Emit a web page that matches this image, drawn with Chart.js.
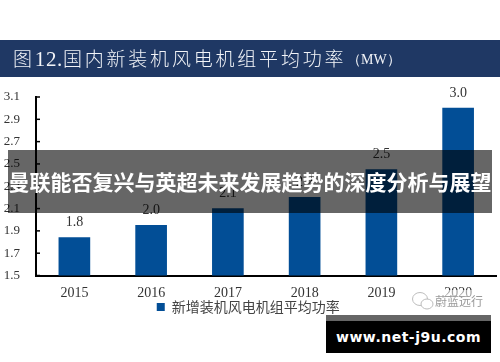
<!DOCTYPE html>
<html>
<head>
<meta charset="utf-8">
<title>国内新装机风电机组平均功率</title>
<script src="https://cdn.jsdelivr.net/npm/chart.js"></script>
<style>
    html, body { margin: 0; padding: 0; background: #fff; }
    #wrap { position: relative; width: 500px; height: 362px; overflow: hidden; }
    #chartBox { position: absolute; left: 0; top: 0; width: 500px; height: 362px; }
    .cjk { font-family: "Noto Sans CJK SC", sans-serif; }
    #band { position: absolute; left: 0; top: 40px; width: 500px; height: 37px; background: #1f3864; color: #f2f4f8; line-height: 37px; white-space: nowrap; }
    #band .t1 { position: absolute; left: 13px; top: -1px; font-size: 19px; letter-spacing: 2.8px; font-weight: 300; }
    #band .num { font-family: "Liberation Serif", serif; font-size: 21px; letter-spacing: 0.6px; }
    #band .t2 { position: absolute; left: 347px; top: 1px; font-family: "Liberation Serif", serif; font-size: 14px; }
    #overlay { position: absolute; left: 8px; top: 150px; width: 484px; height: 63px; background: rgba(0,0,0,0.6); color: #fff; font-size: 21px; font-weight: 700; line-height: 63px; white-space: nowrap; overflow: hidden; text-align: center; }
    #mark { position: absolute; left: 411px; top: 290px; width: 76px; height: 22px; }
    #mark span { position: absolute; left: 24px; top: 0; font-size: 12px; line-height: 22px; color: #9a9a9a; white-space: nowrap; background: rgba(255,255,255,0.55); }
    #strip { position: absolute; left: 326px; top: 315px; width: 165px; height: 6px; background: #666; }
    #url { position: absolute; left: 326px; top: 321px; width: 165px; height: 32px; background: #000; color: #fff; font-family: "DejaVu Sans", sans-serif; font-size: 14px; font-weight: 700; line-height: 32px; text-align: center; letter-spacing: 0.5px; }
</style>
</head>
<body>
<div id="wrap">
    <div id="chartBox"><canvas id="powerChart"></canvas></div>
    <div id="band" class="cjk"><span class="t1">图<span class="num">12.</span>国内新装机风电机组平均功率</span><span class="t2">（MW）</span></div>
    <div id="overlay" class="cjk">曼联能否复兴与英超未来发展趋势的深度分析与展望</div>
    <div id="mark" class="cjk">
        <svg width="24" height="22" viewBox="0 0 24 22"><g fill="#fff" stroke="#bdbdbd" stroke-width="1"><ellipse cx="9" cy="9" rx="7.5" ry="6.5"/><ellipse cx="16" cy="14" rx="6" ry="5"/></g></svg>
        <span>蔚蓝远行</span>
    </div>
    <div id="strip"></div>
    <div id="url">www.net-j9u.com</div>
</div>

<script>
    const years = ['2015', '2016', '2017', '2018', '2019', '2020'];
    const avgPower = [1.84, 1.95, 2.1, 2.2, 2.45, 3.0];
    const powerLabels = ['1.8', '2.0', '2.1', '2.2', '2.5', '3.0'];
    const seriesName = '新增装机风电机组平均功率';

    const serif = 'Liberation Serif';

    // small ticks on the inner side of the y axis + value labels over the bars
    const barExtras = {
        id: 'barExtras',
        afterDatasetsDraw(chart) {
            const ctx = chart.ctx;
            const y = chart.scales.y;
            const x0 = chart.chartArea.left;
            ctx.save();
            ctx.strokeStyle = '#000';
            ctx.lineWidth = 1.5;
            y.ticks.forEach((t, i) => {
                const py = y.getPixelForTick(i);
                ctx.beginPath();
                ctx.moveTo(x0, py);
                ctx.lineTo(x0 + 4, py);
                ctx.stroke();
            });
            ctx.fillStyle = '#333';
            ctx.font = '14px "' + serif + '"';
            ctx.textAlign = 'center';
            ctx.textBaseline = 'bottom';
            chart.getDatasetMeta(0).data.forEach((bar, i) => {
                ctx.fillText(powerLabels[i], bar.x, bar.y - 8);
            });
            ctx.restore();
        }
    };

    new Chart(document.getElementById('powerChart').getContext('2d'), {
        type: 'bar',
        data: {
            labels: years,
            datasets: [{
                label: seriesName,
                data: avgPower,
                backgroundColor: '#024e96',
                barThickness: 31
            }]
        },
        options: {
            responsive: true,
            maintainAspectRatio: false,
            animation: false,
            layout: { padding: { top: 97, right: 3.5, bottom: 38, left: 0 } },
            plugins: {
                tooltip: { enabled: false },
                legend: {
                    position: 'bottom',
                    labels: {
                        boxWidth: 8,
                        boxHeight: 8,
                        padding: 0,
                        color: '#444',
                        font: { family: 'Noto Sans CJK SC', size: 14 }
                    }
                }
            },
            scales: {
                x: {
                    grid: { display: false, drawTicks: false },
                    border: { color: '#000', width: 2 },
                    ticks: { color: '#333', padding: 9, font: { family: serif, size: 14 } },
                    afterFit(s) { s.height = 24.5; }
                },
                y: {
                    min: 1.5,
                    max: 3.1,
                    grid: { display: false, drawTicks: false },
                    border: { color: '#000', width: 2 },
                    ticks: {
                        stepSize: 0.2,
                        color: '#333',
                        padding: 16,
                        font: { family: serif, size: 13 },
                        callback: v => v.toFixed(1)
                    },
                    afterFit(s) { s.width = 36; }
                }
            }
        },
        plugins: [barExtras]
    });
</script>
</body>
</html>
